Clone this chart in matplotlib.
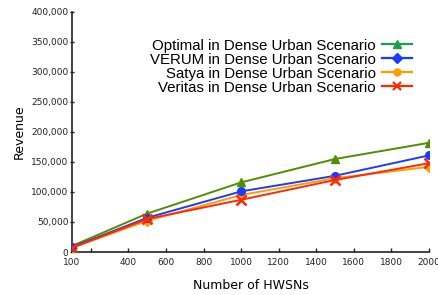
import matplotlib
matplotlib.use("Agg")
import matplotlib.pyplot as plt
from matplotlib.lines import Line2D
from matplotlib.ticker import FuncFormatter

x = [100, 500, 1000, 1500, 2000]
optimal = [10000, 64000, 116000, 155000, 182000]
verum = [8000, 57000, 101000, 127000, 161000]
satya = [7000, 52000, 95000, 123000, 142000]
veritas = [7000, 55000, 87000, 120000, 148000]
labels = ["Optimal in Dense Urban Scenario", "VERUM in Dense Urban Scenario",
          "Satya in Dense Urban Scenario", "Veritas in Dense Urban Scenario"]
xticks = [100, 200, 400, 600, 800, 1000, 1200, 1400, 1600, 1800, 2000]
xticklabels = ["100", "", "400", "600", "800", "1000", "1200", "1400", "1600", "1800", "2000"]
yticks = [0, 50000, 100000, 150000, 200000, 250000, 300000, 350000, 400000]

fig = plt.figure(figsize=(4.39, 2.95), dpi=100)
ax = fig.add_axes([72/439, 1-252/295, 357/439, 240/295])

c_opt, c_ver, c_sat, c_vrt = "#4f9000", "#1a3cff", "#ff9c00", "#ff2a00"
ax.plot(x, optimal, color=c_opt, marker="^", ms=6, lw=1.4, zorder=3)
ax.plot(x, verum, color=c_ver, marker="o", ms=5.5, lw=1.4, zorder=4)
ax.plot(x, satya, color=c_sat, marker="D", ms=5, lw=1.4, zorder=3)
ax.plot(x, veritas, color=c_vrt, marker="x", ms=7, mew=1.8, lw=1.4, zorder=5)

ax.set_xlim(100, 2000)
ax.set_ylim(0, 400000)
ax.set_xticks(xticks)
ax.set_xticklabels(xticklabels)
ax.set_yticks(yticks)
ax.yaxis.set_major_formatter(FuncFormatter(lambda v, p: "0" if v == 0 else f"{int(v):,}"))
ax.tick_params(axis="both", labelsize=6.5, colors="#222222", length=3, width=1)
ax.tick_params(axis="y", direction="inout", pad=1)
ax.tick_params(axis="x", direction="in", pad=4)
for s in ["top", "right"]:
    ax.spines[s].set_visible(False)
for s in ["left", "bottom"]:
    ax.spines[s].set_color("#222222")
    ax.spines[s].set_linewidth(1.2)

ax.set_xlabel("Number of HWSNs", fontsize=9, labelpad=9)
ax.set_ylabel("Revenue", fontsize=9, labelpad=4)

handles = [
    Line2D([], [], color="#1e9e4a", marker="^", ms=6, lw=1.6),
    Line2D([], [], color=c_ver, marker="D", ms=5, lw=1.6),
    Line2D([], [], color=c_sat, marker="o", ms=5, lw=1.6),
    Line2D([], [], color=c_vrt, marker="x", ms=6, mew=1.6, lw=1.6),
]
leg = ax.legend(handles, labels, loc="upper right", bbox_to_anchor=(0.99, 0.945),
                frameon=False, markerfirst=False, handlelength=2.0,
                handletextpad=0.4, labelspacing=0.0,
                prop={"family": "Liberation Sans", "size": 10.8})
for t in leg.get_texts():
    t.set_ha("right")

fig.savefig("out.png", dpi=100)
